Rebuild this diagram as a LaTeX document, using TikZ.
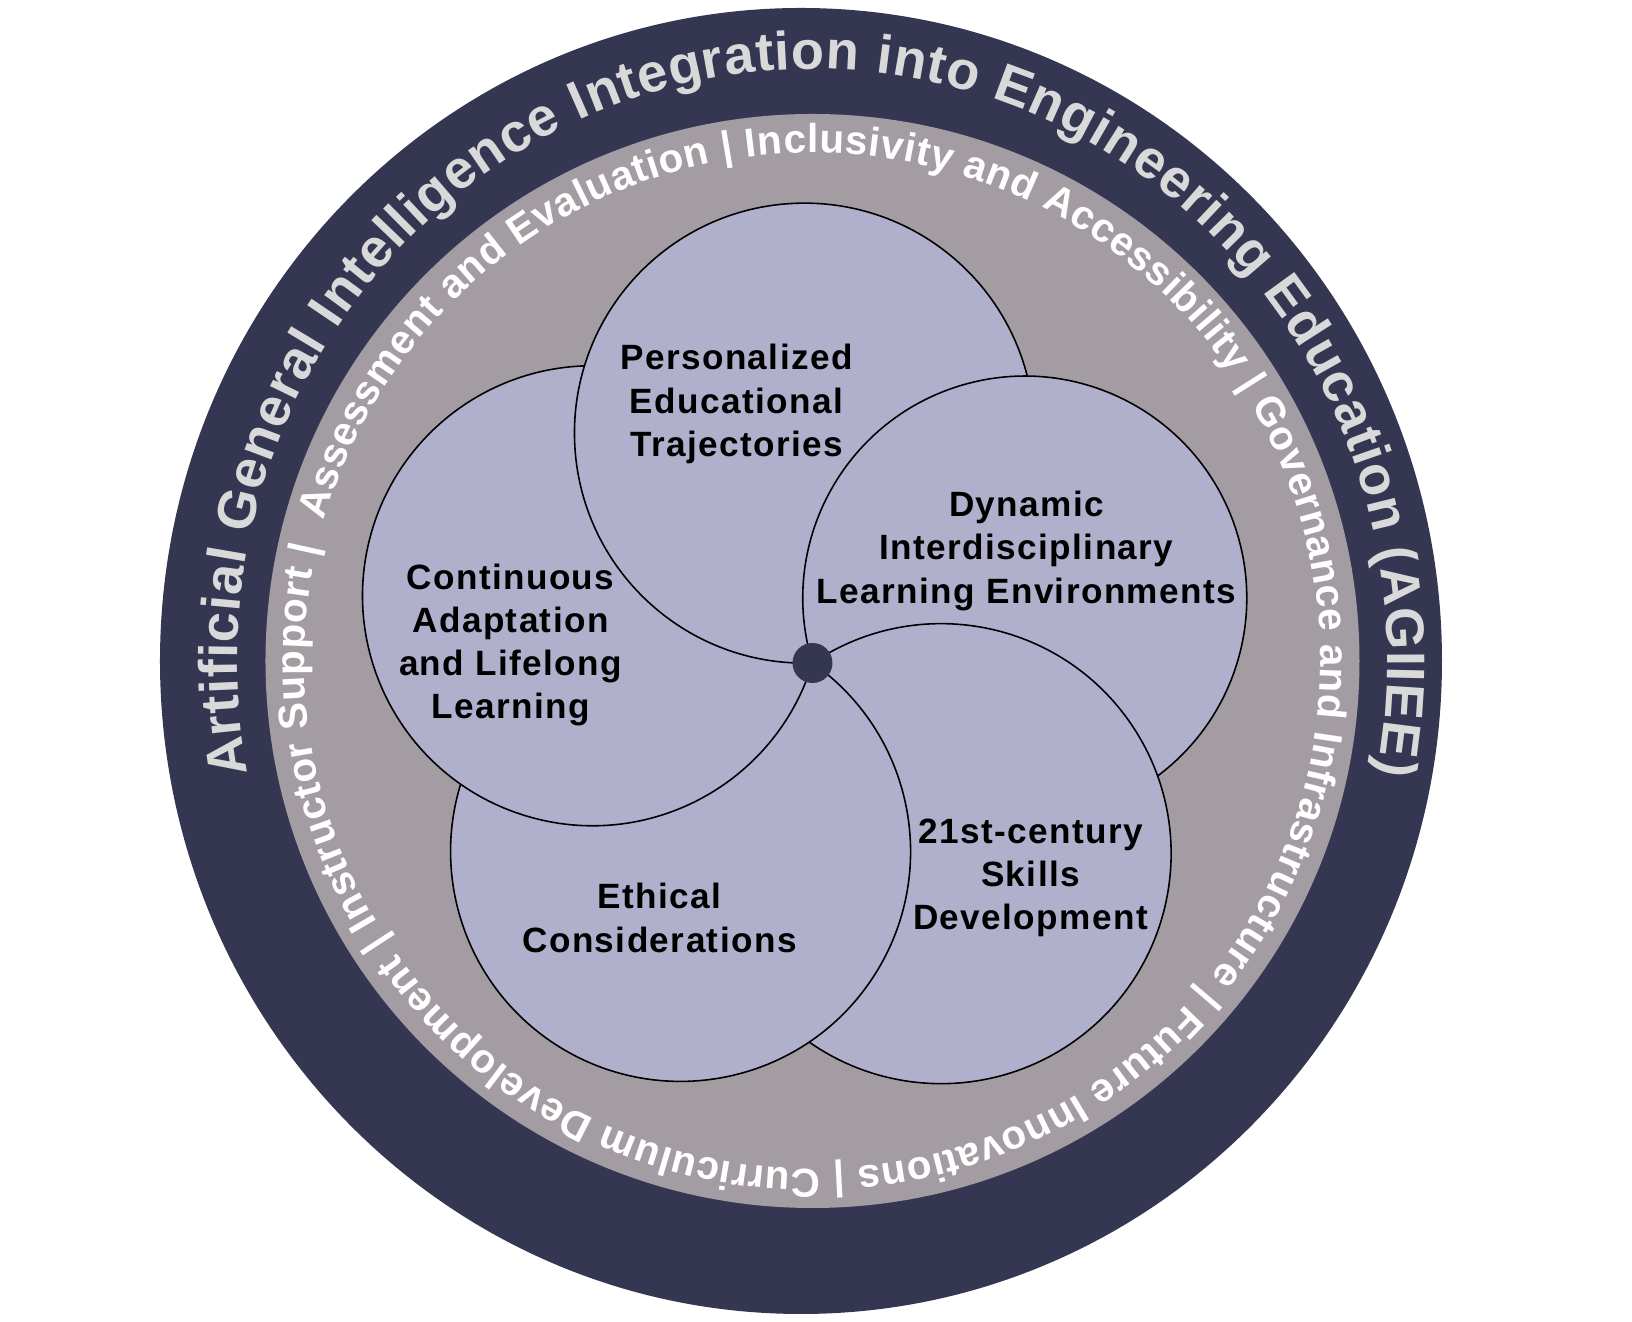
\documentclass[tikz,border=0pt]{standalone}
\usepackage{fontspec}
\setmainfont{Liberation Sans Bold}
\newfontfamily\petalfont[LetterSpace=4]{Liberation Sans Bold}
\usetikzlibrary{decorations.text}
\definecolor{ringdark}{HTML}{343652}
\definecolor{ringgray}{HTML}{A39DA3}
\definecolor{petalfill}{HTML}{B0B0CC}
\definecolor{titlegray}{HTML}{D9D9D9}
\tikzset{
  petalline/.style={draw=black, line width=0.45pt},
  petaltext/.style={align=center, font=\petalfont\fontsize{10}{12.3}\selectfont}
}

\begin{document}
\begin{tikzpicture}[x=0.1mm, y=0.1mm]
\useasboundingbox (-812.5,-661) rectangle (819.5,661);
\fill[ringdark] (-11.5,0) ellipse[x radius=641, y radius=653];
\fill[ringgray] (0,0) circle[radius=547];
\begin{scope}[decoration={
    text along path,
    text format delimiters={[}{]},
    text align=fit to path}
    ]
\path[decorate, decoration={text color=titlegray,
    text={[\fontsize{15.4}{17}\selectfont]Artificial General Intelligence Integration into Engineering Education (AGIIEE)}}]
    (191:575 and 592) arc [x radius=575, y radius=592, start angle=191, end angle=-11];
\path[decorate, decoration={text color=white,
    text={[\fontsize{11.5}{13}\selectfont]Assessment and Evaluation | Inclusivity and Accessibility | Governance and Infrastructure | Future Innovations | Curriculum Development | Instructor Support |}}]
    (164:508) arc [radius=508, start angle=164, end angle=-193];
\end{scope}
\coordinate (hub) at (0,-2);
\foreach \ang/\rad/\nm in {163/230/cont, 92/230/pers, 17/222/dyn, -56/230/cent, -125/230/eth}
  \coordinate (\nm) at ([shift={(\ang:\rad)}]hub);
\foreach \rad/\nm in {230/cont, 230/pers, 222/dyn, 230/cent, 230/eth}
  \fill[petalfill] (\nm) circle[radius=\rad];
\foreach \nm/\rad/\sa/\ea in {pers/230/272/14.4, dyn/222/197/-53.3, cent/230/124/-125, eth/230/55/-197, cont/230/343/92}
  \draw[petalline] ([shift={(\sa:\rad)}]\nm) arc [radius=\rad, start angle=\sa, end angle=\ea];
\fill[ringdark] (hub) circle[radius=20];
\node[petaltext] (perstext) at (-76,257) {Personalized\\Educational\\Trajectories};
\node[petaltext] (dyntext) at (214,110) {Dynamic\\Interdisciplinary\\Learning Environments};
\node[petaltext] (conttext) at (-302,16) {Continuous\\Adaptation\\and Lifelong\\Learning};
\node[petaltext] (ethtext) at (-153,-257) {Ethical\\Considerations};
\node[petaltext] (centtext) at (218,-217) {21st-century\\Skills\\Development};
\end{tikzpicture}
\end{document}
